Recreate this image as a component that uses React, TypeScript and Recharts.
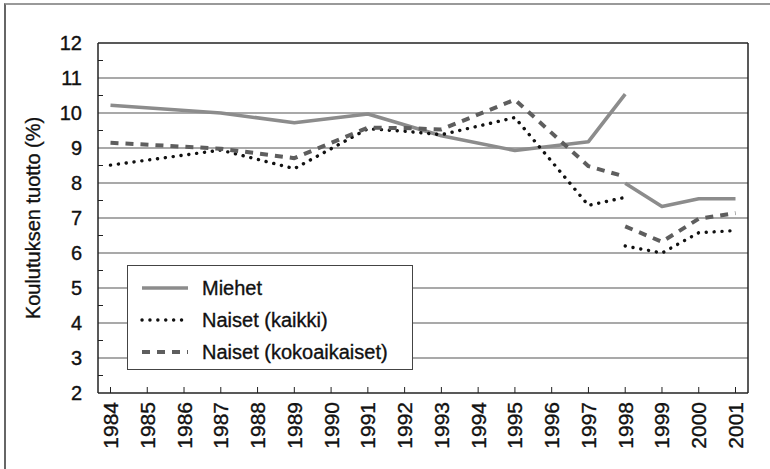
import {
  LineChart,
  Line,
  XAxis,
  YAxis,
  ReferenceLine,
  Legend,
} from "recharts";

// vuodet ja arvot luettu kuvasta; 1998 aineisto katkeaa (kaksi arvoa)
const VUODET_A = [1984, 1987, 1989, 1991, 1993, 1995, 1997, 1998];
const MIEHET_A = [10.22, 10.0, 9.72, 9.97, 9.35, 8.93, 9.18, 10.54];

const VUODET_NA = [1984, 1987, 1989, 1991, 1992, 1993, 1995, 1997, 1998];
const NAISET_KAIKKI_A = [8.51, 8.94, 8.41, 9.55, 9.48, 9.38, 9.87, 7.36, 7.59];
const NAISET_KOKO_A = [9.15, 8.98, 8.71, 9.58, 9.57, 9.53, 10.38, 8.48, 8.18];

const VUODET_B = [1998, 1999, 2000, 2001];
const MIEHET_B = [7.99, 7.33, 7.55, 7.55];
const NAISET_KAIKKI_B = [6.2, 6.0, 6.58, 6.64];
const NAISET_KOKO_B = [6.76, 6.32, 6.98, 7.14];

const X_TICKS = [
  1984, 1985, 1986, 1987, 1988, 1989, 1990, 1991, 1992, 1993, 1994, 1995,
  1996, 1997, 1998, 1999, 2000, 2001,
];
const Y_TICKS = [
  2, 2.5, 3, 3.5, 4, 4.5, 5, 5.5, 6, 6.5, 7, 7.5, 8, 8.5, 9, 9.5, 10, 10.5,
  11, 11.5, 12,
];
const GRID_Y = [3, 4, 5, 6, 7, 8, 9, 10, 11];

const X_MIN = 1983.66;
const X_MAX = 2001.34;

const FONTTI = "'Liberation Sans', Arial, sans-serif";
const KOKO = 20;
const TUMMA = "#222";
const TEKSTI = "#111";

const pari = (vuodet: number[], arvot: number[]) =>
  vuodet.map((v, i) => ({ vuosi: v, arvo: arvot[i] }));

const SARJAT = [
  { nimi: "Miehet", vari: "#8c8c8c", leveys: 3.6, viiva: undefined as string | undefined, cap: "butt" },
  { nimi: "Naiset (kaikki)", vari: "#111", leveys: 3.4, viiva: "0.1 7.8", cap: "round" },
  { nimi: "Naiset (kokoaikaiset)", vari: "#5e5e5e", leveys: 4, viiva: "8 7", cap: "butt" },
];

const DATA = [
  [pari(VUODET_A, MIEHET_A), pari(VUODET_B, MIEHET_B)],
  [pari(VUODET_NA, NAISET_KAIKKI_A), pari(VUODET_B, NAISET_KAIKKI_B)],
  [pari(VUODET_NA, NAISET_KOKO_A), pari(VUODET_B, NAISET_KOKO_B)],
];

function YTick(props: any) {
  const { x, y, payload } = props;
  const kokonainen = Number.isInteger(payload.value);
  return (
    <g>
      {!kokonainen && <line x1={x} x2={x + 5} y1={y} y2={y} stroke={TUMMA} strokeWidth={1} />}
      {kokonainen && (
        <text
          x={x - 16}
          y={y}
          textAnchor="end"
          dominantBaseline="central"
          fontSize={KOKO}
          fill={TEKSTI}
          stroke={TEKSTI}
          strokeWidth={0.35}
          fontFamily={FONTTI}
        >
          {payload.value}
        </text>
      )}
    </g>
  );
}

function XTick(props: any) {
  const { x, y, payload } = props;
  return (
    <g>
      <line x1={x} x2={x} y1={y} y2={y - 6} stroke={TUMMA} strokeWidth={1} />
      <text
        x={x}
        y={y + 9}
        transform={`rotate(-90 ${x} ${y + 9})`}
        textAnchor="end"
        dominantBaseline="central"
        fontSize={21}
        fill={TEKSTI}
        stroke={TEKSTI}
        strokeWidth={0.35}
        fontFamily={FONTTI}
      >
        {payload.value}
      </text>
    </g>
  );
}

function Selite() {
  return (
    <div
      style={{
        width: 286,
        height: 105,
        boxSizing: "border-box",
        border: "1.5px solid #444",
        background: "#fff",
        paddingTop: 6,
      }}
    >
      {SARJAT.map((s) => (
        <div key={s.nimi} style={{ display: "flex", alignItems: "center", height: 32 }}>
          <svg width={74} height={20} style={{ flex: "none" }}>
            <line
              x1={14}
              x2={60}
              y1={10}
              y2={10}
              stroke={s.vari}
              strokeWidth={s.leveys}
              strokeDasharray={s.viiva}
              strokeLinecap={s.cap as any}
            />
          </svg>
          <span
            style={{
              fontFamily: FONTTI,
              fontSize: KOKO,
              color: TEKSTI,
              WebkitTextStroke: `0.35px ${TEKSTI}`,
            }}
          >
            {s.nimi}
          </span>
        </div>
      ))}
    </div>
  );
}

export default function App() {
  return (
    <div style={{ position: "absolute", left: 0, top: 0, width: 770, height: 469, background: "#fff" }}>
      <div
        style={{
          position: "absolute",
          left: 4,
          top: 3,
          width: 766,
          height: 466,
          borderTop: "2px solid #999",
          borderLeft: "2px solid #666",
        }}
      />
      <LineChart
        width={770}
        height={469}
        margin={{ top: 43, right: 22, left: 0, bottom: 0 }}
        style={{ position: "absolute", left: 0, top: 0 }}
      >
        <XAxis
          type="number"
          dataKey="vuosi"
          domain={[X_MIN, X_MAX]}
          ticks={X_TICKS}
          interval={0}
          allowDataOverflow
          height={76}
          tickSize={0}
          tickMargin={0}
          tick={<XTick />}
          axisLine={{ stroke: TUMMA, strokeWidth: 1.5 }}
        />
        <YAxis
          type="number"
          domain={[2, 12]}
          ticks={Y_TICKS}
          interval={0}
          width={98}
          tickSize={0}
          tickMargin={0}
          tick={<YTick />}
          axisLine={{ stroke: TUMMA, strokeWidth: 1.5 }}
          label={{
            content: () => (
              <text
                x={33}
                y={218}
                transform="rotate(-90 33 218)"
                textAnchor="middle"
                dominantBaseline="central"
                fontSize={KOKO}
                fill={TEKSTI}
                stroke={TEKSTI}
                strokeWidth={0.35}
                fontFamily={FONTTI}
              >
                Koulutuksen tuotto (%)
              </text>
            ),
          }}
        />
        {GRID_Y.map((g) => (
          <ReferenceLine key={g} y={g} stroke="#555" strokeWidth={1.2} />
        ))}
        <ReferenceLine y={12} stroke={TUMMA} strokeWidth={1.5} />
        <ReferenceLine x={X_MAX} stroke={TUMMA} strokeWidth={1.5} />
        {SARJAT.map((s, i) =>
          DATA[i].map((osa, j) => (
            <Line
              key={`${s.nimi}-${j}`}
              data={osa}
              dataKey="arvo"
              name={s.nimi}
              type="linear"
              stroke={s.vari}
              strokeWidth={s.leveys}
              strokeDasharray={s.viiva}
              strokeLinecap={s.cap as any}
              strokeLinejoin="round"
              dot={false}
              activeDot={false}
              isAnimationActive={false}
            />
          ))
        )}
        <Legend
          layout="horizontal"
          verticalAlign="middle"
          align="center"
          content={<Selite />}
          wrapperStyle={{ position: "absolute", left: 127, top: 265, width: 286, height: 105 }}
        />
      </LineChart>
    </div>
  );
}
